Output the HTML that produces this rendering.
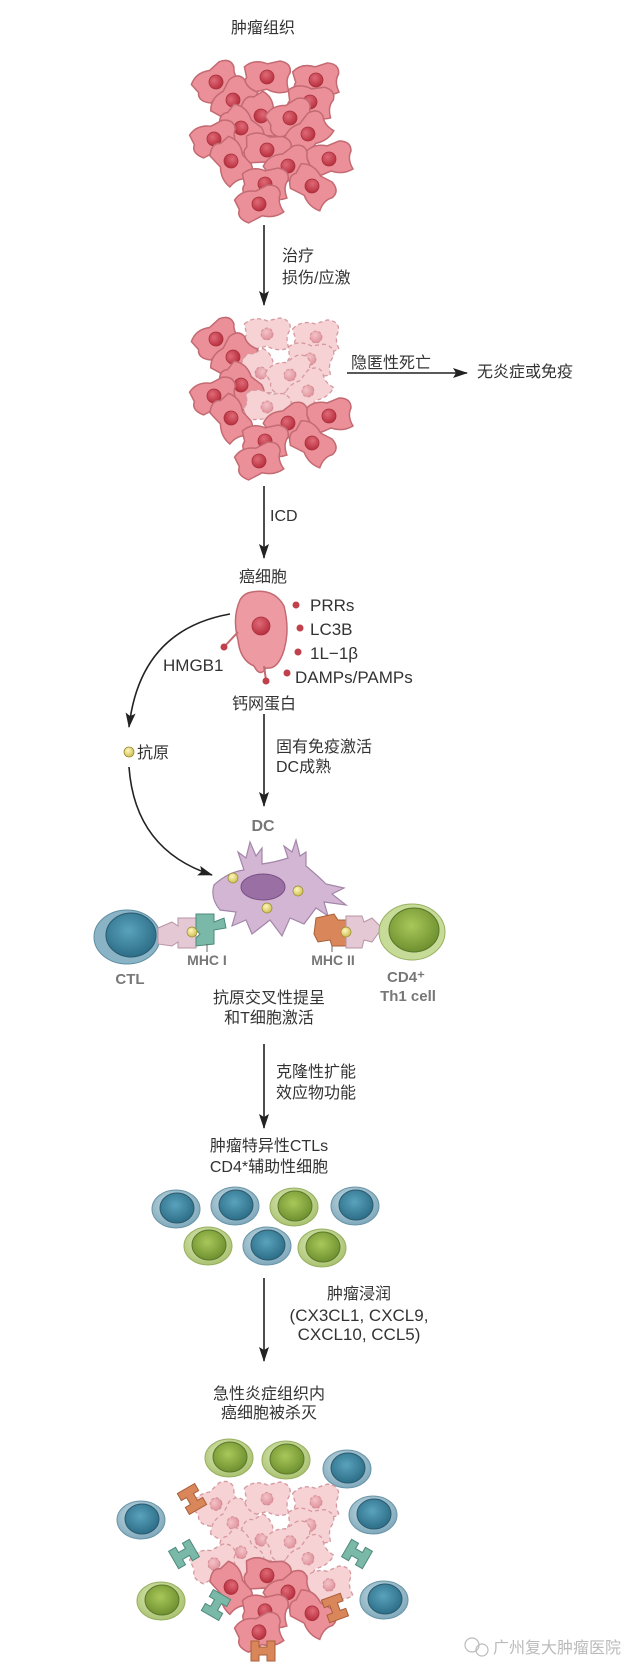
<!DOCTYPE html>
<html><head><meta charset="utf-8"><style>
html,body{margin:0;padding:0;background:#fff;}
svg{display:block;}
text{font-family:"Liberation Sans","Noto Sans CJK SC",sans-serif;fill:#333;font-size:16px;}
.c{text-anchor:middle;}
.g{fill:#777;font-weight:bold;font-size:14px;}
</style></head><body>
<svg width="640" height="1675" viewBox="0 0 640 1675" xmlns="http://www.w3.org/2000/svg">
<defs>
<radialGradient id="nuc" cx="40%" cy="35%" r="65%"><stop offset="0" stop-color="#e06a78"/><stop offset="1" stop-color="#b8303f"/></radialGradient>
<radialGradient id="nucp" cx="40%" cy="35%" r="65%"><stop offset="0" stop-color="#f3c3c8"/><stop offset="1" stop-color="#e0939c"/></radialGradient>
<radialGradient id="bo" cx="45%" cy="40%" r="60%"><stop offset="0" stop-color="#cfe1e8"/><stop offset="1" stop-color="#7fa9bb"/></radialGradient>
<radialGradient id="bi" cx="45%" cy="40%" r="60%"><stop offset="0" stop-color="#5aa2bc"/><stop offset="1" stop-color="#2d6e88"/></radialGradient>
<radialGradient id="go" cx="45%" cy="40%" r="60%"><stop offset="0" stop-color="#e4efc4"/><stop offset="1" stop-color="#a9c270"/></radialGradient>
<radialGradient id="gi" cx="45%" cy="40%" r="60%"><stop offset="0" stop-color="#a9c85a"/><stop offset="1" stop-color="#6f9030"/></radialGradient>
<radialGradient id="yl" cx="40%" cy="35%" r="60%"><stop offset="0" stop-color="#fdf7c0"/><stop offset="1" stop-color="#d4c45a"/></radialGradient>
<path id="cs" d="M-24,-6 Q-16,-16 -2,-13 L10,-18 Q22,-18 22,-8 Q18,0 24,10 Q14,16 2,12 L-12,18 Q-24,12 -20,4 Z"/>
<g id="cell"><use href="#cs" fill="#eb9098" stroke="#c46a72" stroke-width="1.5"/><circle r="7" fill="url(#nuc)" stroke="#a8303c" stroke-width="0.8"/></g>
<g id="pcell"><use href="#cs" fill="#f7d2d5" stroke="#d49aa0" stroke-width="1.3" stroke-dasharray="4 3"/><circle r="6" fill="url(#nucp)" stroke="#d08890" stroke-width="0.8" stroke-dasharray="3 2"/></g>
<g id="bt"><ellipse rx="24" ry="19" fill="url(#bo)" stroke="#6a95a8" stroke-width="1"/><ellipse cx="1" cy="-1" rx="17" ry="15" fill="url(#bi)" stroke="#2a5a70" stroke-width="1"/></g>
<g id="gt"><ellipse rx="24" ry="19" fill="url(#go)" stroke="#98b060" stroke-width="1"/><ellipse cx="1" cy="-1" rx="17" ry="15" fill="url(#gi)" stroke="#5a7828" stroke-width="1"/></g>
<marker id="ah" markerWidth="16" markerHeight="10" refX="14" refY="5" orient="auto" markerUnits="userSpaceOnUse"><path d="M0,0 L15,5 L0,10 L3,5 Z" fill="#222"/></marker>
<path id="rec" d="M-10,-12 L10,-12 L10,-4 L4,-4 L4,4 L10,4 L10,12 L-10,12 L-10,4 L-4,4 L-4,-4 L-10,-4 Z"/>
</defs>

<text class="c" x="263" y="33">肿瘤组织</text>

<g>
<use href="#cell" transform="translate(216,82) rotate(-20)"/>
<use href="#cell" transform="translate(267,77) rotate(10)"/>
<use href="#cell" transform="translate(316,80) rotate(5)"/>
<use href="#cell" transform="translate(233,100) rotate(-40)"/>
<use href="#cell" transform="translate(310,102) rotate(15)"/>
<use href="#cell" transform="translate(261,116) rotate(80)"/>
<use href="#cell" transform="translate(290,118) rotate(-10)"/>
<use href="#cell" transform="translate(241,128) rotate(60)"/>
<use href="#cell" transform="translate(214,139) rotate(-5)"/>
<use href="#cell" transform="translate(308,134) rotate(-30)"/>
<use href="#cell" transform="translate(267,150) rotate(20)"/>
<use href="#cell" transform="translate(231,161) rotate(70)"/>
<use href="#cell" transform="translate(329,159) rotate(0)"/>
<use href="#cell" transform="translate(288,166) rotate(-15)"/>
<use href="#cell" transform="translate(265,184) rotate(10)"/>
<use href="#cell" transform="translate(312,186) rotate(50)"/>
<use href="#cell" transform="translate(259,204) rotate(-5)"/>
</g>

<line x1="264" y1="225" x2="264" y2="305" stroke="#222" stroke-width="1.6" marker-end="url(#ah)"/>
<text x="282" y="261">治疗</text>
<text x="282" y="283">损伤/应激</text>

<g transform="translate(0,257)">
<use href="#cell" transform="translate(216,82) rotate(-20)"/>
<use href="#pcell" transform="translate(267,77) rotate(10)"/>
<use href="#pcell" transform="translate(316,80) rotate(5)"/>
<use href="#cell" transform="translate(233,100) rotate(-40)"/>
<use href="#pcell" transform="translate(310,102) rotate(15)"/>
<use href="#pcell" transform="translate(261,116) rotate(80)"/>
<use href="#pcell" transform="translate(290,118) rotate(-10)"/>
<use href="#cell" transform="translate(241,128) rotate(60)"/>
<use href="#cell" transform="translate(214,139) rotate(-5)"/>
<use href="#pcell" transform="translate(308,134) rotate(-30)"/>
<use href="#pcell" transform="translate(267,150) rotate(20)"/>
<use href="#cell" transform="translate(231,161) rotate(70)"/>
<use href="#cell" transform="translate(329,159) rotate(0)"/>
<use href="#cell" transform="translate(288,166) rotate(-15)"/>
<use href="#cell" transform="translate(265,184) rotate(10)"/>
<use href="#cell" transform="translate(312,186) rotate(50)"/>
<use href="#cell" transform="translate(259,204) rotate(-5)"/>
</g>

<text x="351" y="368">隐匿性死亡</text>
<line x1="347" y1="373" x2="467" y2="373" stroke="#222" stroke-width="1.6" marker-end="url(#ah)"/>
<text x="477" y="377">无炎症或免疫</text>

<line x1="264" y1="486" x2="264" y2="558" stroke="#222" stroke-width="1.6" marker-end="url(#ah)"/>
<text x="270" y="521">ICD</text>

<text class="c" x="263" y="582">癌细胞</text>
<path d="M252,592 Q274,588 284,606 Q290,630 284,650 Q278,670 266,668 Q260,678 254,666 Q240,660 238,640 Q232,618 240,600 Q244,593 252,592 Z" fill="#ee9aa2" stroke="#c46a72" stroke-width="1.5"/>
<circle cx="261" cy="626" r="9" fill="url(#nuc)" stroke="#a8303c" stroke-width="0.8"/>
<line x1="238" y1="632" x2="224" y2="647" stroke="#c46a72" stroke-width="2"/>
<circle cx="224" cy="647" r="3.5" fill="#c0404c"/>
<line x1="264" y1="666" x2="266" y2="680" stroke="#c46a72" stroke-width="2"/>
<circle cx="266" cy="681" r="3.5" fill="#c0404c"/>
<circle cx="296" cy="605" r="3.5" fill="#c0404c"/>
<circle cx="300" cy="628" r="3.5" fill="#c0404c"/>
<circle cx="298" cy="652" r="3.5" fill="#c0404c"/>
<circle cx="287" cy="673" r="3.5" fill="#c0404c"/>
<text x="310" y="611" style="font-size:17px">PRRs</text>
<text x="310" y="635" style="font-size:17px">LC3B</text>
<text x="310" y="659" style="font-size:17px">1L−1β</text>
<text x="295" y="683" style="font-size:17px">DAMPs/PAMPs</text>
<text x="163" y="671" style="font-size:17px">HMGB1</text>
<text class="c" x="264" y="709">钙网蛋白</text>

<line x1="264" y1="714" x2="264" y2="806" stroke="#222" stroke-width="1.6" marker-end="url(#ah)"/>
<text x="276" y="752">固有免疫激活</text>
<text x="276" y="772">DC成熟</text>

<path d="M230,614 Q140,630 129,727" fill="none" stroke="#222" stroke-width="1.6" marker-end="url(#ah)"/>
<circle cx="129" cy="752" r="5" fill="url(#yl)" stroke="#9a8a30" stroke-width="0.8"/>
<text x="137" y="758">抗原</text>
<path d="M129,767 Q135,850 212,875" fill="none" stroke="#222" stroke-width="1.6" marker-end="url(#ah)"/>

<text class="c g" x="263" y="831" style="font-size:16px">DC</text>
<path d="M214,885 Q228,872 244,870 L238,852 L246,858 L250,842 L256,856 L262,848 L262,864 Q276,862 288,858 L284,846 L292,852 L296,840 L300,856 L306,852 L306,866 Q318,876 326,884 L344,888 L332,894 L346,905 L324,902 L328,916 L316,908 L304,924 L290,918 L282,936 L270,920 L252,934 L246,920 L232,926 L236,912 L220,910 Q210,898 214,885 Z" fill="#d2b6d4" stroke="#a486a8" stroke-width="1.2"/>
<ellipse cx="263" cy="887" rx="22" ry="13" fill="#9a6fa4" stroke="#7a5084" stroke-width="1"/>
<circle cx="233" cy="878" r="5" fill="url(#yl)" stroke="#9a8a30" stroke-width="0.7"/>
<circle cx="298" cy="891" r="5" fill="url(#yl)" stroke="#9a8a30" stroke-width="0.7"/>
<circle cx="267" cy="908" r="5" fill="url(#yl)" stroke="#9a8a30" stroke-width="0.7"/>

<ellipse cx="127" cy="937" rx="33" ry="27" fill="#8ab4c6" stroke="#5d8ea2" stroke-width="1"/>
<ellipse cx="131" cy="935" rx="25" ry="22" fill="url(#bi)" stroke="#2a5a70" stroke-width="1"/>
<path d="M158,928 L172,922 L178,926 L178,918 L196,918 L196,948 L178,948 L178,942 L172,946 L158,944 Z" fill="#e4c8d4" stroke="#b894a6" stroke-width="1"/>
<path d="M196,914 L214,914 L214,922 L224,918 L226,928 L214,930 L214,944 L196,946 L196,938 L200,934 L196,930 Z" fill="#7ab8a8" stroke="#4e8a7c" stroke-width="1"/>
<circle cx="192" cy="932" r="5" fill="url(#yl)" stroke="#9a8a30" stroke-width="0.7"/>
<line x1="207" y1="944" x2="207" y2="952" stroke="#666" stroke-width="1"/>
<path d="M316,918 L334,914 L338,920 L346,920 L346,946 L332,946 L330,940 L318,942 L314,934 Z" fill="#d9875a" stroke="#a85f38" stroke-width="1"/>
<path d="M346,916 L362,916 L364,922 L372,918 L382,928 L372,942 L364,940 L362,948 L346,948 Z" fill="#e4c8d4" stroke="#b894a6" stroke-width="1"/>
<circle cx="346" cy="932" r="5" fill="url(#yl)" stroke="#9a8a30" stroke-width="0.7"/>
<line x1="332" y1="946" x2="332" y2="952" stroke="#666" stroke-width="1"/>
<ellipse cx="412" cy="932" rx="33" ry="28" fill="#c7db98" stroke="#98b060" stroke-width="1"/>
<ellipse cx="414" cy="930" rx="25" ry="22" fill="url(#gi)" stroke="#5a7828" stroke-width="1"/>

<text class="c g" x="207" y="965">MHC I</text>
<text class="c g" x="333" y="965">MHC II</text>
<text class="c g" x="130" y="984" style="font-size:15px">CTL</text>
<text class="c g" x="406" y="982" style="font-size:15px">CD4⁺</text>
<text class="c g" x="408" y="1001" style="font-size:15px">Th1 cell</text>

<text class="c" x="269" y="1003">抗原交叉性提呈</text>
<text class="c" x="269" y="1023">和T细胞激活</text>

<line x1="264" y1="1044" x2="264" y2="1128" stroke="#222" stroke-width="1.6" marker-end="url(#ah)"/>
<text x="276" y="1077">克隆性扩能</text>
<text x="276" y="1098">效应物功能</text>

<text class="c" x="269" y="1151">肿瘤特异性CTLs</text>
<text class="c" x="269" y="1172">CD4*辅助性细胞</text>

<use href="#bt" x="176" y="1209"/>
<use href="#bt" x="235" y="1206"/>
<use href="#gt" x="294" y="1207"/>
<use href="#bt" x="355" y="1206"/>
<use href="#gt" x="208" y="1246"/>
<use href="#bt" x="267" y="1246"/>
<use href="#gt" x="322" y="1248"/>

<line x1="264" y1="1278" x2="264" y2="1361" stroke="#222" stroke-width="1.6" marker-end="url(#ah)"/>
<text class="c" x="359" y="1299">肿瘤浸润</text>
<text class="c" x="359" y="1321" style="font-size:17px">(CX3CL1, CXCL9,</text>
<text class="c" x="359" y="1340" style="font-size:17px">CXCL10, CCL5)</text>

<text class="c" x="269" y="1399">急性炎症组织内</text>
<text class="c" x="269" y="1418">癌细胞被杀灭</text>

<use href="#gt" x="229" y="1458"/>
<use href="#gt" x="286" y="1460"/>
<use href="#bt" x="347" y="1469"/>
<g transform="translate(0,1418) scale(1,1.05)">
<use href="#pcell" transform="translate(216,82) rotate(-20)"/>
<use href="#pcell" transform="translate(267,77) rotate(10)"/>
<use href="#pcell" transform="translate(316,80) rotate(5)"/>
<use href="#pcell" transform="translate(233,100) rotate(-40)"/>
<use href="#pcell" transform="translate(310,102) rotate(15)"/>
<use href="#pcell" transform="translate(261,116) rotate(80)"/>
<use href="#pcell" transform="translate(290,118) rotate(-10)"/>
<use href="#pcell" transform="translate(241,128) rotate(60)"/>
<use href="#pcell" transform="translate(214,139) rotate(-5)"/>
<use href="#pcell" transform="translate(308,134) rotate(-30)"/>
<use href="#cell" transform="translate(267,150) rotate(20)"/>
<use href="#cell" transform="translate(231,161) rotate(70)"/>
<use href="#pcell" transform="translate(329,159) rotate(0)"/>
<use href="#cell" transform="translate(288,166) rotate(-15)"/>
<use href="#cell" transform="translate(265,184) rotate(10)"/>
<use href="#cell" transform="translate(312,186) rotate(50)"/>
<use href="#cell" transform="translate(259,204) rotate(-5)"/>
</g>
<use href="#bt" x="141" y="1520"/>
<use href="#bt" x="373" y="1515"/>
<use href="#gt" x="161" y="1601"/>
<use href="#bt" x="384" y="1600"/>
<use href="#rec" transform="translate(192,1499) rotate(-30)" fill="#d9875a" stroke="#a85f38"/>
<use href="#rec" transform="translate(184,1554) rotate(60)" fill="#7ab8a8" stroke="#4e8a7c"/>
<use href="#rec" transform="translate(357,1554) rotate(-60)" fill="#7ab8a8" stroke="#4e8a7c"/>
<use href="#rec" transform="translate(216,1605) rotate(30)" fill="#7ab8a8" stroke="#4e8a7c"/>
<use href="#rec" transform="translate(335,1608) rotate(-20)" fill="#d9875a" stroke="#a85f38"/>
<use href="#rec" transform="translate(263,1651) rotate(90)" fill="#d9875a" stroke="#a85f38"/>

<circle cx="472" cy="1645" r="7" fill="none" stroke="#bbb" stroke-width="1.2"/>
<circle cx="482" cy="1650" r="6" fill="none" stroke="#bbb" stroke-width="1.2"/>
<text x="493" y="1653" style="fill:#bbb;font-size:16px">广州复大肿瘤医院</text>
</svg>
</body></html>
